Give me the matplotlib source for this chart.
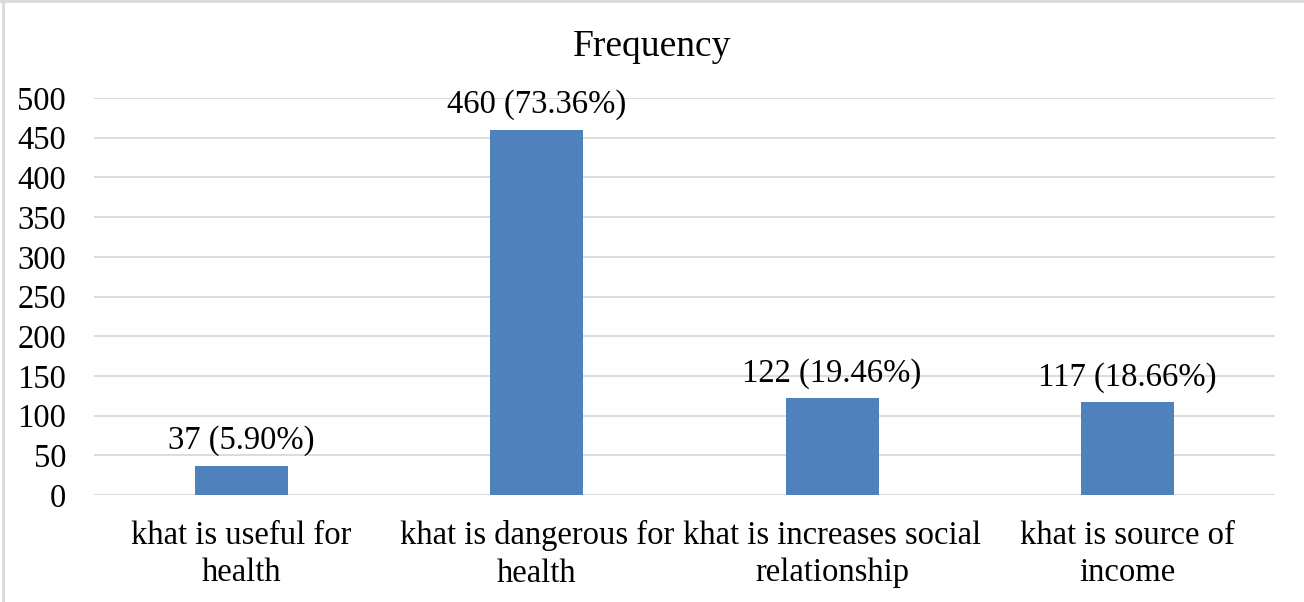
import matplotlib.pyplot as plt
from matplotlib.lines import Line2D

categories = ['khat is useful for\nhealth', 'khat is dangerous for\nhealth',
              'khat is increases social\nrelationship', 'khat is source of\nincome']
counts = [37, 460, 122, 117]
percents = ['5.90%', '73.36%', '19.46%', '18.66%']
yticks = [0, 50, 100, 150, 200, 250, 300, 350, 400, 450, 500]

plt.rcParams['font.family'] = ['Liberation Serif', 'DejaVu Serif']

fig = plt.figure(figsize=(13.04, 6.02), dpi=100)
ax = fig.add_axes([94 / 1304, 1 - 495 / 602, 1181 / 1304, 397 / 602])

x = range(len(categories))
ax.bar(x, counts, width=0.315, color='#4F81BD', zorder=3)
for i, c in enumerate(counts):
    ax.text(i, c + 12, '%d (%s)' % (c, percents[i]), ha='center', va='bottom', fontsize=23.5)

ax.set_xlim(-0.5, 3.5)
ax.set_ylim(0, 500)
ax.set_yticks(yticks)
ax.set_yticklabels([str(t) for t in yticks], fontsize=23.5)
ax.set_xticks(list(x))
ax.set_xticklabels(categories, fontsize=23.5, linespacing=1.3)
ax.tick_params(axis='both', length=0)
ax.tick_params(axis='y', pad=20)
ax.tick_params(axis='x', pad=18)
ax.grid(axis='y', color='#D9D9D9', linewidth=1.3, zorder=0)
for s in ax.spines.values():
    s.set_visible(False)
fig.text(0.5, 1 - 47 / 602, 'Frequency', fontsize=27, ha='center', va='center')

# thin frame around the chart area
fig.add_artist(Line2D([0.002, 0.002], [0, 1], color='#D9D9D9', linewidth=2, transform=fig.transFigure))
fig.add_artist(Line2D([0, 1], [0.998, 0.998], color='#D9D9D9', linewidth=2, transform=fig.transFigure))

fig.savefig('out.png', dpi=100)
